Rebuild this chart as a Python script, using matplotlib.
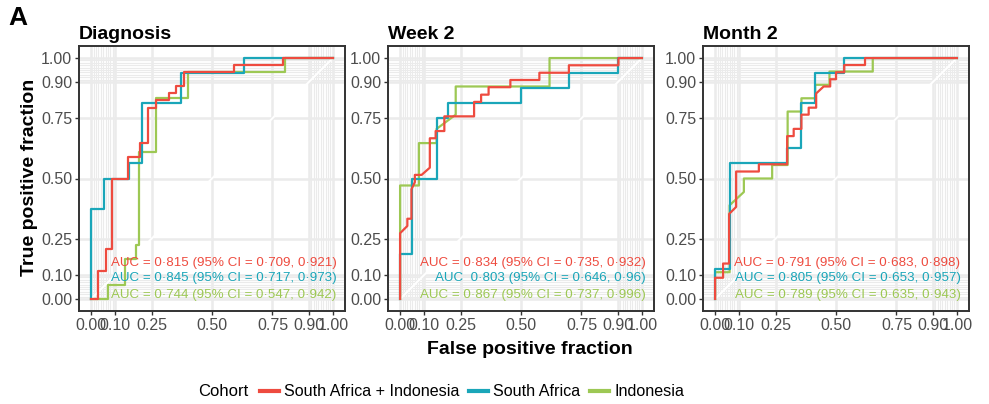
import numpy as np
import matplotlib.pyplot as plt
from matplotlib.lines import Line2D

# ROC curve vertices (false positive fraction, true positive fraction)
cohorts = ['South Africa + Indonesia', 'South Africa', 'Indonesia']
colors = ['#EE4B3F', '#1AA6B9', '#9DC854']
panels = ['Diagnosis', 'Week 2', 'Month 2']

diag_sai_fpr = [0, 0.029, 0.029, 0.061, 0.061, 0.088, 0.088, 0.151, 0.151, 0.203, 0.203, 0.236, 0.236,
                0.268, 0.268, 0.323, 0.323, 0.351, 0.351, 0.386, 0.386, 0.589, 0.589, 0.793, 0.793, 1]
diag_sai_tpr = [0, 0, 0.118, 0.118, 0.206, 0.206, 0.5, 0.5, 0.588, 0.588, 0.647, 0.647, 0.794,
                0.794, 0.824, 0.824, 0.853, 0.853, 0.882, 0.882, 0.941, 0.941, 0.971, 0.971, 1, 1]
diag_sa_fpr = [0, 0, 0.054, 0.054, 0.157, 0.157, 0.21, 0.21, 0.372, 0.372, 0.634, 0.634, 1]
diag_sa_tpr = [0, 0.375, 0.375, 0.5, 0.5, 0.5625, 0.5625, 0.8125, 0.8125, 0.9375, 0.9375, 1, 1]
diag_ind_fpr = [0, 0.068, 0.068, 0.141, 0.141, 0.185, 0.185, 0.199, 0.199, 0.268, 0.268, 0.402, 0.402, 0.8, 0.8, 1]
diag_ind_tpr = [0, 0, 0.056, 0.056, 0.167, 0.167, 0.222, 0.222, 0.611, 0.611, 0.833, 0.833, 0.944, 0.944, 1, 1]

wk2_sai_fpr = [0, 0, 0.03, 0.03, 0.047, 0.047, 0.061, 0.061, 0.089, 0.123, 0.123, 0.147, 0.147, 0.183, 0.183,
               0.306, 0.306, 0.335, 0.335, 0.366, 0.366, 0.456, 0.456, 0.576, 0.576, 0.698, 0.698, 0.903, 0.903, 1]
wk2_sai_tpr = [0, 0.273, 0.303, 0.333, 0.333, 0.455, 0.485, 0.515, 0.515, 0.545, 0.667, 0.667, 0.697, 0.697, 0.758,
               0.758, 0.818, 0.818, 0.848, 0.848, 0.879, 0.879, 0.909, 0.909, 0.939, 0.939, 0.970, 0.970, 1, 1]
wk2_sa_fpr = [0, 0, 0.051, 0.051, 0.151, 0.151, 0.2, 0.2, 0.501, 0.501, 0.698, 0.698, 0.903, 0.903, 1]
wk2_sa_tpr = [0, 0.1875, 0.1875, 0.5, 0.5, 0.75, 0.75, 0.8125, 0.8125, 0.875, 0.875, 0.9375, 0.9375, 1, 1]
wk2_ind_fpr = [0, 0, 0.078, 0.078, 0.151, 0.151, 0.23, 0.23, 0.618, 0.618, 1]
wk2_ind_tpr = [0, 0.471, 0.471, 0.647, 0.647, 0.706, 0.765, 0.882, 0.882, 1, 1]

m2_sai_fpr = [0, 0, 0.033, 0.033, 0.058, 0.058, 0.087, 0.087, 0.181, 0.181, 0.298, 0.298, 0.325, 0.325, 0.357,
              0.357, 0.387, 0.387, 0.418, 0.418, 0.449, 0.476, 0.476, 0.5, 0.5, 0.534, 0.534, 0.62, 0.62, 1]
m2_sai_tpr = [0, 0.088, 0.088, 0.147, 0.147, 0.353, 0.382, 0.529, 0.529, 0.559, 0.559, 0.676, 0.676, 0.706, 0.706,
              0.765, 0.765, 0.794, 0.794, 0.853, 0.882, 0.882, 0.912, 0.912, 0.941, 0.941, 0.971, 0.971, 1, 1]
m2_sa_fpr = [0, 0, 0.06, 0.06, 0.298, 0.298, 0.357, 0.357, 0.414, 0.414, 0.534, 0.534, 1]
m2_sa_tpr = [0, 0.125, 0.125, 0.5625, 0.5625, 0.625, 0.625, 0.8125, 0.8125, 0.9375, 0.9375, 1, 1]
m2_ind_fpr = [0, 0, 0.06, 0.06, 0.119, 0.119, 0.236, 0.236, 0.3, 0.3, 0.357, 0.357, 0.414, 0.414, 0.473, 0.473, 0.652, 0.652, 1]
m2_ind_tpr = [0, 0.111, 0.111, 0.389, 0.444, 0.5, 0.5, 0.556, 0.556, 0.778, 0.778, 0.833, 0.833, 0.889, 0.889, 0.944, 0.944, 1, 1]

diag_labels = ['AUC = 0·815 (95% CI = 0·709, 0·921)',
               'AUC = 0·845 (95% CI = 0·717, 0·973)',
               'AUC = 0·744 (95% CI = 0·547, 0·942)']
wk2_labels = ['AUC = 0·834 (95% CI = 0·735, 0·932)',
              'AUC  0·803 (95% CI = 0·646, 0·96)',
              'AUC = 0·867 (95% CI = 0·737, 0·996)']
m2_labels = ['AUC = 0·791 (95% CI = 0·683, 0·898)',
             'AUC = 0·805 (95% CI = 0·653, 0·957)',
             'AUC = 0·789 (95% CI = 0·635, 0·943)']

major_breaks = [0, 0.1, 0.25, 0.5, 0.75, 0.9, 1]
minor_breaks = list(np.arange(0, 0.1, 0.01)) + list(np.arange(0.91, 1.0, 0.01))
label_y = [0.15, 0.085, 0.015]

curves = [
    [(diag_sai_fpr, diag_sai_tpr), (diag_sa_fpr, diag_sa_tpr), (diag_ind_fpr, diag_ind_tpr)],
    [(wk2_sai_fpr, wk2_sai_tpr), (wk2_sa_fpr, wk2_sa_tpr), (wk2_ind_fpr, wk2_ind_tpr)],
    [(m2_sai_fpr, m2_sai_tpr), (m2_sa_fpr, m2_sa_tpr), (m2_ind_fpr, m2_ind_tpr)],
]
labels = [diag_labels, wk2_labels, m2_labels]

plt.rcParams['font.family'] = ['Liberation Sans', 'DejaVu Sans']

fig = plt.figure(figsize=(9.89, 4.04), dpi=100)
lefts = [79, 388, 703]
for i, name in enumerate(panels):
    ax = fig.add_axes([lefts[i] / 989, 1 - 311 / 404, 266 / 989, 265 / 404])
    ax.set_xlim(-0.05, 1.05)
    ax.set_ylim(-0.05, 1.05)
    ax.set_xticks(major_breaks)
    ax.set_yticks(major_breaks)
    ax.set_xticks(minor_breaks, minor=True)
    ax.set_yticks(minor_breaks, minor=True)
    ax.set_xticklabels(['%.2f' % b for b in major_breaks])
    ax.set_yticklabels(['%.2f' % b for b in major_breaks])
    ax.tick_params(which='major', length=3, width=1, color='#333333', labelsize=11.5, labelcolor='#4D4D4D', pad=2)
    ax.tick_params(which='minor', length=0)
    ax.grid(which='major', color='#EBEBEB', linewidth=1.8)
    ax.grid(which='minor', color='#EBEBEB', linewidth=0.8)
    ax.set_axisbelow(True)
    for s in ax.spines.values():
        s.set_color('#333333')
        s.set_linewidth(1.4)
    ax.plot([0, 1], [0, 1], color='white', linewidth=1.4, zorder=1.5)
    for j, (fpr, tpr) in enumerate(curves[i]):
        ax.plot(fpr, tpr, color=colors[j], linewidth=1.6, zorder=3 - 0.1 * j)
    for j, txt in enumerate(labels[i]):
        ax.text(1.015, label_y[j], txt, color=colors[j], ha='right', va='center',
                fontsize=9.6, zorder=4)
    ax.set_title(name, loc='left', fontsize=14, fontweight='bold', pad=5)

fig.text(0.008, 0.985, 'A', fontsize=19, fontweight='bold', va='top', ha='left')
fig.text(0.03, 0.56, 'True positive fraction', rotation=90, fontsize=14, fontweight='bold',
         ha='center', va='center')
fig.text(0.536, 0.135, 'False positive fraction', fontsize=14, fontweight='bold', ha='center', va='center')

handles = [Line2D([], [], color=c, linewidth=3) for c in colors]
fig.text(0.2, 0.03, 'Cohort', fontsize=12, va='center', ha='left')
fig.legend(handles, cohorts, loc='center left', bbox_to_anchor=(0.263, 0.03), ncol=3, frameon=False,
           prop={'size': 11.6}, handlelength=1.15, handletextpad=0.35, columnspacing=0.6,
           borderaxespad=0, borderpad=0)

fig.savefig('out.png', dpi=100)
